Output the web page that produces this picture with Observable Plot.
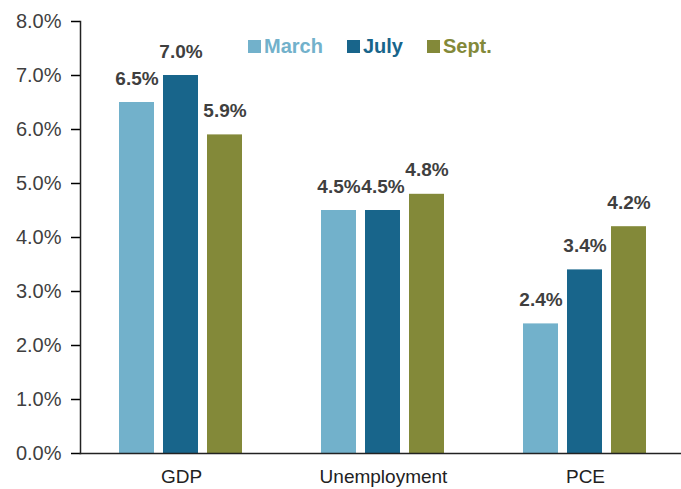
<!DOCTYPE html>
<html><head><meta charset="utf-8">
<script src="https://cdn.jsdelivr.net/npm/d3@7"></script>
<script src="https://cdn.jsdelivr.net/npm/@observablehq/plot@0.6"></script>
<style>
body{margin:0;background:#fff;font-family:"Liberation Sans",Arial,sans-serif;}
#wrap{position:relative;width:681px;height:489px;}
#legend{position:absolute;top:34px;left:248px;display:flex;align-items:center;font-weight:bold;font-size:20px;line-height:24px;}
#legend .item{display:flex;align-items:center;margin-right:24px;}
#legend .sw{width:13px;height:13px;margin-right:3px;}
</style></head><body><div id="wrap"></div>
<script>
const categories = ["GDP", "Unemployment", "PCE"];
const seriesNames = ["March", "July", "Sept."];
const marchValues = [6.5, 4.5, 2.4];
const julyValues = [7.0, 4.5, 3.4];
const septValues = [5.9, 4.8, 4.2];
const seriesColors = ["#72B1CB", "#18658B", "#838939"];
const yTicks = [0, 1, 2, 3, 4, 5, 6, 7, 8];

const seriesValues = [marchValues, julyValues, septValues];
const data = [];
categories.forEach((c, i) => seriesNames.forEach((s, j) => data.push({category: c, series: s, value: seriesValues[j][i]})));

const fmt = d => d.toFixed(1) + "%";

const chart = Plot.plot({
  width: 681,
  height: 489,
  marginLeft: 81,
  marginRight: 0,
  marginTop: 21,
  marginBottom: 36,
  style: {fontFamily: '"Liberation Sans", Arial, sans-serif', background: "#fff", overflow: "visible"},
  fx: {domain: categories, range: [80, 686], paddingInner: 0, paddingOuter: 0, label: null, tickSize: 0, tickPadding: 16, fontSize: 20},
  x: {domain: seriesNames, paddingInner: 0.2, paddingOuter: 0.87, axis: null},
  y: {domain: [0, 8], ticks: yTicks, tickFormat: fmt, tickSize: 9, tickPadding: 10, label: null},
  color: {domain: seriesNames, range: seriesColors},
  marks: [
    Plot.barY(data, {fx: "category", x: "series", y: "value", fill: "series"}),
    Plot.text(data, {fx: "category", x: "series", y: "value", text: d => fmt(d.value), lineAnchor: "bottom", dy: -18, fontWeight: "bold", fontSize: 19, fill: "#3f3f3f"}),
    Plot.frame({anchor: "bottom", facet: "super", stroke: "#222", strokeWidth: 1.5}),
    Plot.frame({anchor: "left", facet: "super", stroke: "#222", strokeWidth: 1.5})
  ]
});

d3.select(chart).selectAll("[aria-label='y-axis tick label'] text, [aria-label='y-axis tick label']").style("font-size", "20px").attr("fill", "#3f3f3f");
d3.select(chart).selectAll("[aria-label='fx-axis tick label']").style("font-size", "19px").attr("fill", "#222");
d3.select(chart).selectAll("[aria-label='y-axis tick']").attr("stroke", "#222").attr("stroke-width", 1.5);

const wrap = d3.select("#wrap");
wrap.node().appendChild(chart);
const legend = wrap.append("div").attr("id", "legend");
seriesNames.forEach((s, j) => {
  const it = legend.append("div").attr("class", "item");
  it.append("div").attr("class", "sw").style("background", seriesColors[j]);
  it.append("span").style("color", seriesColors[j]).text(s);
});
</script></body></html>
